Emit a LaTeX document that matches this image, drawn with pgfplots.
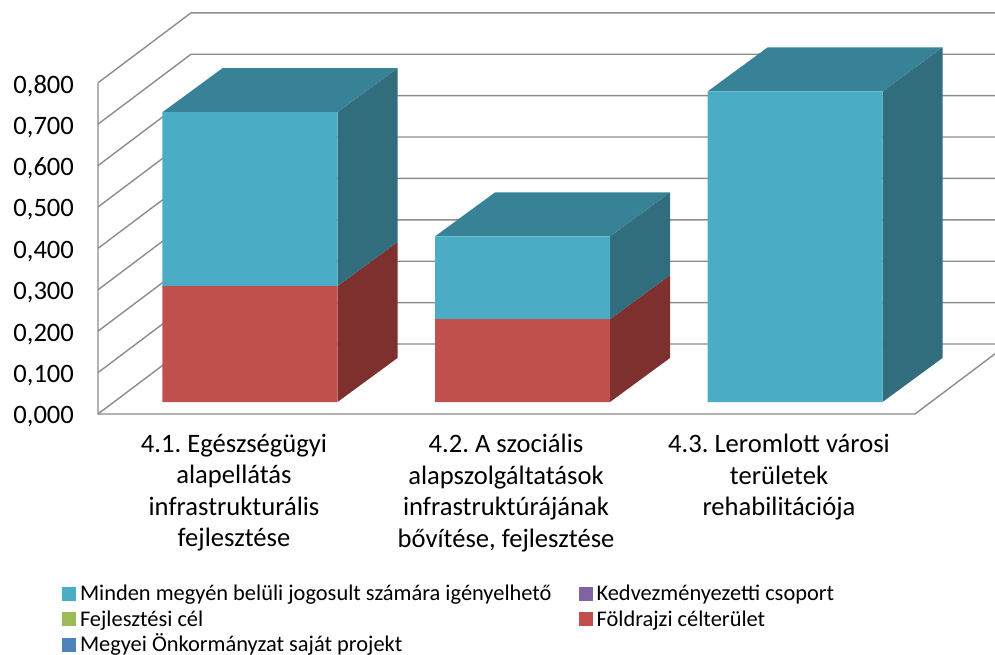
\documentclass[border=0pt]{standalone}
\usepackage{fontspec}
\setmainfont{Carlito}
\usepackage{pgfplots}
\pgfplotsset{compat=1.18}
\usepackage{pgfplotstable}
\frenchspacing

\definecolor{cyanF}{HTML}{4BACC6}
\definecolor{cyanT}{HTML}{388297}
\definecolor{cyanS}{HTML}{316D7D}
\definecolor{redF}{HTML}{C0504D}
\definecolor{redS}{HTML}{7D302E}
\definecolor{grn}{HTML}{9BBB59}
\definecolor{prp}{HTML}{8064A2}
\definecolor{blu}{HTML}{4F81BD}
\definecolor{gridc}{HTML}{8C8C8C}

% bar front-face centres (px) and stacked values
\pgfplotstableread{
x      megyei foldrajzi fejlesztesi kedvezmenyezetti minden
250    0      0.28      0           0                0.42
522.5  0      0.20      0           0                0.20
795    0      0.00      0           0                0.75
}\datatable

\begin{document}
\begin{tikzpicture}
% ---------- front plane: walls, grid, ticks, category labels ----------
\begin{axis}[
  name=front, at={(0,0)}, anchor=south west,
  x=0.5pt, y=207pt,
  xmin=98, xmax=995, ymin=0, ymax=1,
  clip=false,
  axis line style={draw=none},
  major tick length=0pt,
  ytick={0,0.1,0.2,0.3,0.4,0.5,0.6,0.7,0.8},
  /pgf/number format/assume math mode=true,
  yticklabel style={/pgf/number format/.cd, fixed, fixed zerofill, precision=3, use comma,
    /tikz/.cd, font=\fontsize{13.3}{16}\selectfont, anchor=east, xshift=-8.5pt, yshift=-1.5pt},
  xtick={234,506,779},
  xticklabels={{4.1. Egészségügyi\\alapellátás\\infrastrukturális\\fejlesztése},
               {4.2. A szociális\\alapszolgáltatások\\infrastruktúrájának\\bővítése, fejlesztése},
               {4.3. Leromlott városi\\területek\\rehabilitációja}},
  xticklabel style={font=\fontsize{13.3}{15.75}\selectfont, align=center, anchor=north, yshift=-6.5pt},
]
\coordinate (BL) at (axis cs:0,-0.5821);
\coordinate (TR) at (axis cs:995,1.0);
% left wall diagonals + back wall gridlines
\addplot[gridc, line width=0.7pt, forget plot] coordinates {(98,0.0) (191,0.169) (1010,0.169)};
\addplot[gridc, line width=0.7pt, forget plot] coordinates {(98,0.1) (191,0.269) (1010,0.269)};
\addplot[gridc, line width=0.7pt, forget plot] coordinates {(98,0.2) (191,0.369) (1010,0.369)};
\addplot[gridc, line width=0.7pt, forget plot] coordinates {(98,0.3) (191,0.469) (1010,0.469)};
\addplot[gridc, line width=0.7pt, forget plot] coordinates {(98,0.4) (191,0.569) (1010,0.569)};
\addplot[gridc, line width=0.7pt, forget plot] coordinates {(98,0.5) (191,0.669) (1010,0.669)};
\addplot[gridc, line width=0.7pt, forget plot] coordinates {(98,0.6) (191,0.769) (1010,0.769)};
\addplot[gridc, line width=0.7pt, forget plot] coordinates {(98,0.7) (191,0.869) (1010,0.869)};
\addplot[gridc, line width=0.7pt, forget plot] coordinates {(98,0.8) (191,0.969) (1010,0.969)};
% left wall front edge and floor outline
\addplot[gridc, line width=0.7pt, forget plot] coordinates {(98,0.8) (98,0) (915,0) (1008,0.169)};
\end{axis}

% ---------- bar side and top faces ----------
\begin{axis}[
  at={(0,6pt)}, anchor=south west,
  x=0.5pt, y=207pt,
  xmin=98, xmax=995, ymin=0, ymax=0.971,
  hide axis, clip=false,
]
% bar 1
\addplot[fill=redS, draw=none, forget plot] coordinates {(337.5,0) (397.5,0.1063) (397.5,0.3863) (337.5,0.28)};
\addplot[fill=cyanS, draw=none, forget plot] coordinates {(337.5,0.28) (397.5,0.3863) (397.5,0.8063) (337.5,0.70)};
\addplot[fill=cyanT, draw=none, forget plot] coordinates {(162.5,0.70) (337.5,0.70) (397.5,0.8063) (222.5,0.8063)};
% bar 2
\addplot[fill=redS, draw=none, forget plot] coordinates {(610,0) (670,0.1063) (670,0.3063) (610,0.20)};
\addplot[fill=cyanS, draw=none, forget plot] coordinates {(610,0.20) (670,0.3063) (670,0.5063) (610,0.40)};
\addplot[fill=cyanT, draw=none, forget plot] coordinates {(435,0.40) (610,0.40) (670,0.5063) (495,0.5063)};
% bar 3
\addplot[fill=cyanS, draw=none, forget plot] coordinates {(882.5,0) (942.5,0.1063) (942.5,0.8563) (882.5,0.75)};
\addplot[fill=cyanT, draw=none, forget plot] coordinates {(707.5,0.75) (882.5,0.75) (942.5,0.8563) (767.5,0.8563)};
\end{axis}

% ---------- bar front faces (stacked) + legend ----------
\begin{axis}[
  at={(0,6pt)}, anchor=south west,
  x=0.5pt, y=207pt,
  xmin=98, xmax=995, ymin=0, ymax=0.971,
  hide axis, clip=false,
  ybar stacked, bar width=175,
  legend columns=2, reverse legend,
  legend cell align=left,
  legend image code/.code={\fill[#1] (0pt,-2.4pt) rectangle (7pt,4.6pt);},
  legend style={
    at={(-0.04013,-0.4502)}, anchor=north west,
    draw=none, fill=none, inner sep=0pt, outer sep=0pt,
    font=\fontsize{11.2}{12.75}\selectfont,
    nodes={inner xsep=0pt, inner ysep=0pt, text height=9pt, text depth=3.75pt},
    row sep=0pt, column sep=0pt,
    /tikz/column 1/.style={column sep=2pt},
    /tikz/column 2/.style={column sep=13.5pt},
    /tikz/column 3/.style={column sep=2pt},
  },
]
\addplot[fill=blu, draw=none] table[x=x, y=megyei] {\datatable};
\addlegendentry{Megyei Önkormányzat saját projekt}
\addplot[fill=redF, draw=none] table[x=x, y=foldrajzi] {\datatable};
\addlegendentry{Földrajzi célterület}
\addplot[fill=grn, draw=none] table[x=x, y=fejlesztesi] {\datatable};
\addlegendentry{Fejlesztési cél}
\addplot[fill=prp, draw=none] table[x=x, y=kedvezmenyezetti] {\datatable};
\addlegendentry{Kedvezményezetti csoport}
\addplot[fill=cyanF, draw=none] table[x=x, y=minden] {\datatable};
\addlegendentry{Minden megyén belüli jogosult számára igényelhető}
\end{axis}

\pgfresetboundingbox
\useasboundingbox (BL) rectangle (TR);
\end{tikzpicture}
\end{document}
